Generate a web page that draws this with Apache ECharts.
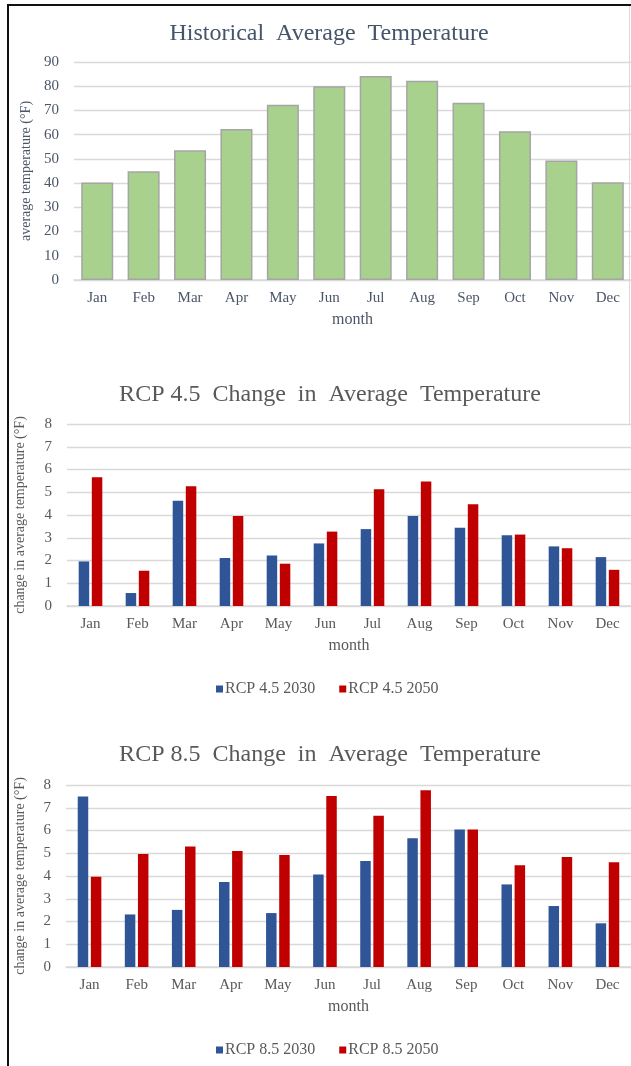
<!DOCTYPE html>
<html>
<head>
<meta charset="utf-8">
<script src="https://cdn.jsdelivr.net/npm/echarts@6/dist/echarts.min.js"></script>
<style>
  html, body { margin: 0; padding: 0; background: #fff; }
  #chart { width: 631px; height: 1066px; }
</style>
</head>
<body>
<div id="chart"></div>
<script>
// data
var months = ['Jan', 'Feb', 'Mar', 'Apr', 'May', 'Jun', 'Jul', 'Aug', 'Sep', 'Oct', 'Nov', 'Dec'];
var historicalTemp = [40.3, 44.9, 53.6, 62.3, 72.3, 80.0, 84.2, 82.3, 73.2, 61.4, 49.3, 40.4];

var rcp45_2030 = [1.96, 0.57, 4.63, 2.11, 2.22, 2.75, 3.38, 3.96, 3.44, 3.11, 2.62, 2.15];
var rcp45_2050 = [5.66, 1.55, 5.26, 3.96, 1.86, 3.27, 5.13, 5.47, 4.47, 3.14, 2.54, 1.59];

var rcp85_2030 = [7.49, 2.31, 2.51, 3.74, 2.37, 4.07, 4.66, 5.66, 6.04, 3.63, 2.68, 1.92];
var rcp85_2050 = [3.97, 4.97, 5.30, 5.10, 4.92, 7.52, 6.65, 7.77, 6.04, 4.47, 4.84, 4.60];

var FONT = 'Liberation Serif';
var GREY = '#595959';
var SLATE = '#4b5668';

function xAxisFor(gridIndex, color) {
    return {
        type: 'category',
        gridIndex: gridIndex,
        data: months,
        name: 'month',
        nameLocation: 'middle',
        nameGap: 32,
        nameTextStyle: { fontFamily: FONT, fontSize: 16, color: color },
        axisLine: { lineStyle: { color: '#d9d9d9', width: 1.5 } },
        axisTick: { show: false },
        axisLabel: { fontFamily: FONT, fontSize: 15, color: color, margin: 11, interval: 0 }
    };
}

function yAxisFor(gridIndex, max, interval, name, gap, color) {
    return {
        type: 'value',
        gridIndex: gridIndex,
        min: 0,
        max: max,
        interval: interval,
        name: name,
        nameLocation: 'middle',
        nameRotate: 90,
        nameGap: gap,
        nameTextStyle: { fontFamily: FONT, fontSize: 14, color: color },
        axisLine: { show: false },
        axisTick: { show: false },
        axisLabel: { fontFamily: FONT, fontSize: 15, color: color, margin: 15 },
        splitLine: { lineStyle: { color: '#d9d9d9', width: 1.3 } }
    };
}

var myChart = echarts.init(document.getElementById('chart'));

var option = {
    animation: false,
    backgroundColor: '#ffffff',
    title: [
        {
            text: 'Historical  Average  Temperature',
            left: 324, top: 17, textAlign: 'center',
            textStyle: { fontFamily: FONT, fontSize: 24, fontWeight: 'normal', color: '#44546a' }
        },
        {
            text: 'RCP 4.5  Change  in  Average  Temperature',
            left: 325, top: 378, textAlign: 'center',
            textStyle: { fontFamily: FONT, fontSize: 24, fontWeight: 'normal', color: GREY }
        },
        {
            text: 'RCP 8.5  Change  in  Average  Temperature',
            left: 325, top: 738, textAlign: 'center',
            textStyle: { fontFamily: FONT, fontSize: 24, fontWeight: 'normal', color: GREY }
        }
    ],
    legend: [
        {
            data: ['RCP 4.5 2030', 'RCP 4.5 2050'],
            left: 211, top: 676,
            icon: 'rect', itemWidth: 7, itemHeight: 7, itemGap: 24,
            textStyle: { fontFamily: FONT, fontSize: 16, color: GREY, padding: [0, 0, 0, -3] }
        },
        {
            data: ['RCP 8.5 2030', 'RCP 8.5 2050'],
            left: 211, top: 1037,
            icon: 'rect', itemWidth: 7, itemHeight: 7, itemGap: 24,
            textStyle: { fontFamily: FONT, fontSize: 16, color: GREY, padding: [0, 0, 0, -3] }
        }
    ],
    grid: [
        { left: 74, top: 62, width: 558, height: 218 },
        { left: 67, top: 424, width: 566, height: 182 },
        { left: 66, top: 785, width: 567, height: 182 }
    ],
    xAxis: [
        xAxisFor(0, SLATE),
        xAxisFor(1, GREY),
        xAxisFor(2, GREY)
    ],
    yAxis: [
        yAxisFor(0, 90, 10, 'average temperature (\u00b0F)', 37, SLATE),
        yAxisFor(1, 8, 1, 'change in average temperature (\u00b0F)', 40, GREY),
        yAxisFor(2, 8, 1, 'change in average temperature (\u00b0F)', 39, GREY)
    ],
    series: [
        {
            name: 'Historical',
            type: 'bar',
            xAxisIndex: 0, yAxisIndex: 0,
            barCategoryGap: '31%',
            itemStyle: { color: '#a9d18e', borderColor: '#a5a5a5', borderWidth: 1.5 },
            data: historicalTemp
        },
        {
            name: 'RCP 4.5 2030',
            type: 'bar',
            xAxisIndex: 1, yAxisIndex: 1,
            barWidth: 10.5, barGap: '25%',
            itemStyle: { color: '#2f5597' },
            data: rcp45_2030
        },
        {
            name: 'RCP 4.5 2050',
            type: 'bar',
            xAxisIndex: 1, yAxisIndex: 1,
            barWidth: 10.5, barGap: '25%',
            itemStyle: { color: '#c00000' },
            data: rcp45_2050
        },
        {
            name: 'RCP 8.5 2030',
            type: 'bar',
            xAxisIndex: 2, yAxisIndex: 2,
            barWidth: 10.5, barGap: '25%',
            itemStyle: { color: '#2f5597' },
            data: rcp85_2030
        },
        {
            name: 'RCP 8.5 2050',
            type: 'bar',
            xAxisIndex: 2, yAxisIndex: 2,
            barWidth: 10.5, barGap: '25%',
            itemStyle: { color: '#c00000' },
            data: rcp85_2050
        }
    ],
    graphic: [
        // frame lines around the picture
        { type: 'rect', shape: { x: 7, y: 4, width: 624, height: 2 }, style: { fill: '#111' }, silent: true },
        { type: 'rect', shape: { x: 7, y: 4, width: 2, height: 1062 }, style: { fill: '#111' }, silent: true },
        { type: 'rect', shape: { x: 629, y: 6, width: 1, height: 418 }, style: { fill: '#d9d9d9' }, silent: true }
    ]
};

myChart.setOption(option);
</script>
</body>
</html>
